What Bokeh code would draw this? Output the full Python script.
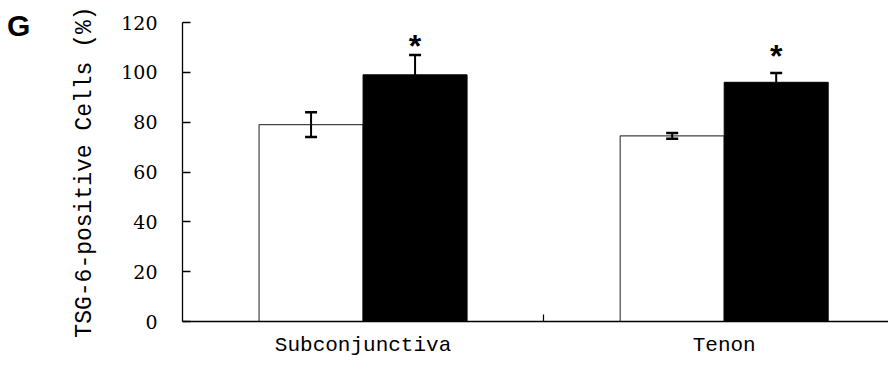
from bokeh.plotting import figure
from bokeh.models import ColumnDataSource, Whisker, FixedTicker, Range1d, Div
from bokeh.layouts import row
from bokeh.core.properties import value
from bokeh.embed import file_html
from bokeh.resources import INLINE

# ---- data ----
categories = ["Subconjunctiva", "Tenon"]
control_means = [79, 74.5]
control_errs = [5, 1.2]
treated_means = [99, 96]
treated_errs = [8, 3.7]
star_y = [112, 108]
y_ticks = [0, 20, 40, 60, 80, 100, 120]

n = len(categories)
centers = [i + 0.5 for i in range(n)]
bar_w = 0.288
off = 0.144

ctrl_x = [c - off for c in centers]
trt_x = [c + off for c in centers]

src_c = ColumnDataSource(dict(
    x=ctrl_x, top=control_means,
    upper=[m + e for m, e in zip(control_means, control_errs)],
    lower=[m - e for m, e in zip(control_means, control_errs)]))
src_t = ColumnDataSource(dict(
    x=trt_x, top=treated_means,
    upper=[m + e for m, e in zip(treated_means, treated_errs)],
    lower=[m - e for m, e in zip(treated_means, treated_errs)]))
src_s = ColumnDataSource(dict(x=trt_x, y=star_y, t=["*"] * n))

p = figure(width=838, height=359, output_backend="svg", toolbar_location=None,
           x_range=Range1d(0, 1.955), y_range=Range1d(0, 120),
           min_border_left=132, min_border_right=0, min_border_top=22,
           min_border_bottom=35)
p.outline_line_color = None
p.grid.grid_line_color = None
p.background_fill_color = "white"

p.vbar(x="x", top="top", width=bar_w, bottom=0, source=src_c,
       fill_color="white", line_color="#444444", line_width=1.2)
p.vbar(x="x", top="top", width=bar_w, bottom=0, source=src_t,
       fill_color="black", line_color="black", line_width=1)

for src in (src_c, src_t):
    w = Whisker(base="x", upper="upper", lower="lower", source=src,
                line_color="black", line_width=2, level="overlay")
    w.upper_head.size = 12
    w.lower_head.size = 12
    w.upper_head.line_width = 2.5
    w.lower_head.line_width = 2.5
    w.upper_head.line_color = "black"
    w.lower_head.line_color = "black"
    p.add_layout(w)

p.text(x="x", y="y", text="t", source=src_s, text_font=value("Liberation Sans"),
       text_font_style="bold", text_font_size="32px", text_align="center",
       text_baseline="middle", y_offset=4, text_color="black")

# y axis
p.yaxis.ticker = FixedTicker(ticks=y_ticks)
p.yaxis.major_tick_in = 8
p.yaxis.major_tick_out = 0
p.yaxis.minor_tick_line_color = None
p.yaxis.axis_line_width = 1.3
p.yaxis.major_tick_line_width = 1.3
p.yaxis.major_label_text_font = "DejaVu Serif"
p.yaxis.major_label_text_font_size = "19px"
p.yaxis.major_label_text_color = "black"
p.yaxis.major_label_standoff = 25
p.yaxis.axis_label = "TSG-6-positive Cells (%)"
p.yaxis.axis_label_text_font = "Liberation Mono"
p.yaxis.axis_label_text_font_size = "23px"
p.yaxis.axis_label_text_font_style = "normal"
p.yaxis.axis_label_text_color = "black"
p.yaxis.axis_label_standoff = 20

# x axis
p.xaxis.ticker = FixedTicker(ticks=centers, minor_ticks=[1.0])
p.xaxis.major_label_overrides = {c: lab for c, lab in zip(centers, categories)}
p.xaxis.major_tick_in = 0
p.xaxis.major_tick_out = 0
p.xaxis.minor_tick_in = 7
p.xaxis.minor_tick_out = 0
p.xaxis.minor_tick_line_width = 1.2
p.xaxis.axis_line_width = 1.3
p.xaxis.major_label_text_font = "Liberation Mono"
p.xaxis.major_label_text_font_size = "21px"
p.xaxis.major_label_text_color = "black"
p.xaxis.major_label_standoff = 12

g = Div(text="G", width=40, height=359,
        styles={"font-family": "Liberation Sans", "font-weight": "bold",
                "font-size": "30px", "color": "black", "padding-left": "2px",
                "padding-top": "6px", "line-height": "30px"})

layout = row(g, p, spacing=0)
open("out.html", "w").write(file_html(layout, INLINE))
